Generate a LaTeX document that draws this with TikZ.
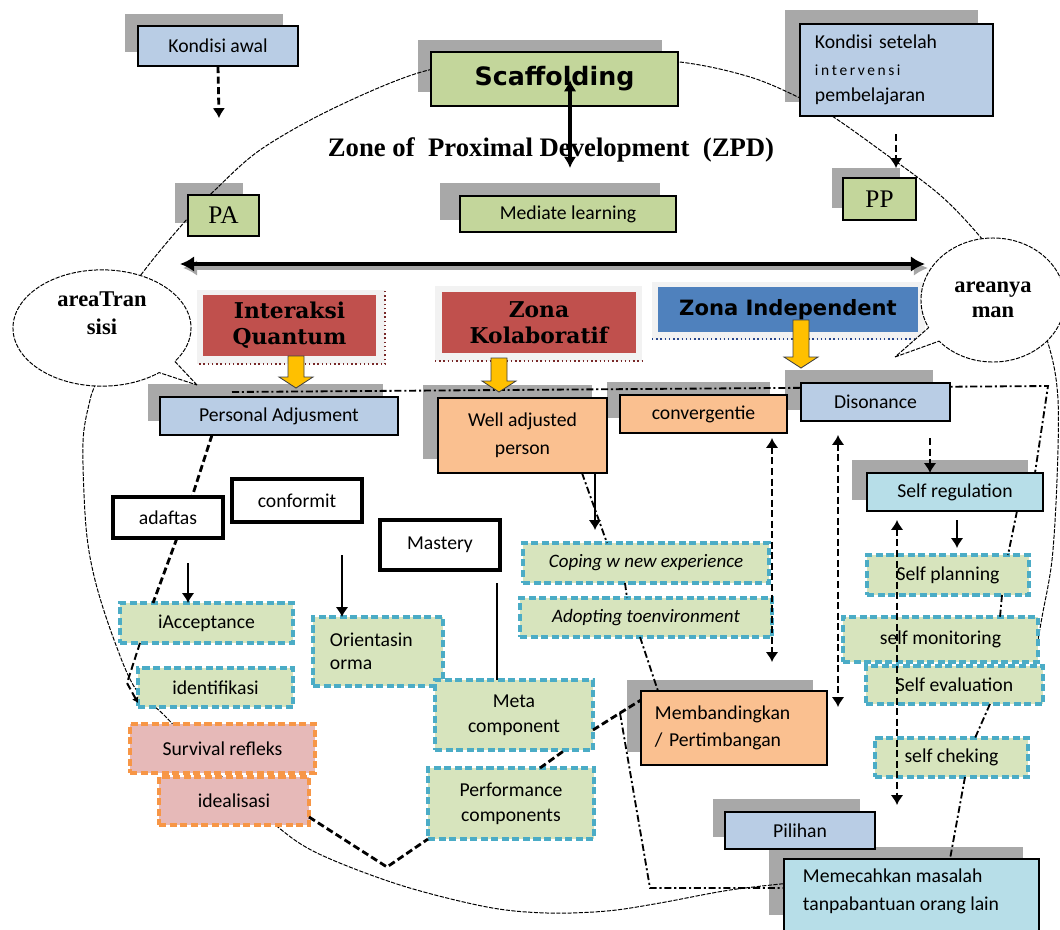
\documentclass[tikz,border=0pt]{standalone}
\usepackage{fontspec}
\setmainfont{Carlito}
\newfontfamily\lserif{Liberation Serif}
\newfontfamily\djserif{DejaVu Serif}
\newfontfamily\djsans{DejaVu Sans}
\usetikzlibrary{arrows.meta,shapes.callouts,shapes.geometric}
\definecolor{boxblue}{RGB}{185,205,229}
\definecolor{boxgreen}{RGB}{195,214,155}
\definecolor{boxlgreen}{RGB}{215,228,189}
\definecolor{boxorange}{RGB}{250,192,144}
\definecolor{boxlblue}{RGB}{183,222,232}
\definecolor{boxpink}{RGB}{230,185,184}
\definecolor{tealc}{RGB}{75,172,198}
\definecolor{orangec}{RGB}{247,150,70}
\definecolor{zred}{RGB}{192,80,77}
\definecolor{zblue}{RGB}{79,129,189}
\definecolor{yel}{RGB}{255,192,0}
\definecolor{shadowgray}{RGB}{168,168,168}
\definecolor{framegray}{RGB}{242,242,242}
\definecolor{dred}{RGB}{120,40,40}
\definecolor{dblue}{RGB}{40,70,140}
\tikzset{
 base/.style={draw=black, line width=1.2pt, inner sep=0pt, outer sep=0pt, font=\fontsize{14}{17}\selectfont},
 bluebox/.style={base, fill=boxblue},
 greenbox/.style={base, fill=boxgreen},
 orangebox/.style={base, fill=boxorange},
 lbluebox/.style={base, fill=boxlblue},
 tealbox/.style={base, draw=tealc, fill=boxlgreen, line width=2.2pt, dash pattern=on 5pt off 2.5pt},
 pinkbox/.style={base, draw=orangec, fill=boxpink, line width=2.2pt, dash pattern=on 5pt off 2.5pt},
 thickbox/.style={base, fill=white, line width=3pt},
 zonered/.style={base, draw=none, fill=zred, align=center, font=\djserif\bfseries\fontsize{15.5}{18.5}\selectfont},
 zoneblue/.style={base, draw=none, fill=zblue, font=\djsans\bfseries\fontsize{15}{18}\selectfont},
 scafffont/.style={font=\djsans\bfseries\fontsize{18}{22}\selectfont},
 serifbig/.style={font=\lserif\fontsize{18}{22}\selectfont},
 ital/.style={font=\itshape\fontsize{13.5}{16}\selectfont},
 twol/.style={align=center, font=\fontsize{14}{18}\selectfont},
 shadowc/.style={fill=shadowgray},
 zpdline/.style={line width=0.7pt, dash pattern=on 3pt off 1pt},
 dashdotc/.style={line width=1.3pt, dash pattern=on 5pt off 2pt on 1.5pt off 2pt},
 dashc/.style={line width=2pt, dash pattern=on 5pt off 2.5pt},
 dasharr/.style={dashc, -{Latex[length=7pt,width=9pt]}},
 dasharrb/.style={dashc, {Latex[length=7pt,width=9pt]}-{Latex[length=7pt,width=9pt]}},
 solidarr/.style={line width=2pt, -{Latex[length=7pt,width=9pt]}},
}
\newcommand{\bx}[7]{%
  \pgfmathsetmacro{\bxcx}{(#2+#4)/2}%
  \pgfmathsetmacro{\bxcy}{(#3+#5)/2}%
  \pgfmathsetmacro{\bxw}{(#4-#2)*0.025}%
  \pgfmathsetmacro{\bxh}{(#5-#3)*0.025}%
  \node[#6, minimum width=\bxw cm, minimum height=\bxh cm] (#1) at (\bxcx,\bxcy) {#7};}
\newcommand{\shd}[4]{\fill[shadowc] (#1,#2) rectangle (#3,#4);}
\newcommand{\yarr}[3]{\filldraw[fill=yel, draw=black!75, line width=0.6pt] (#1-8,#2) -- (#1+8,#2) -- (#1+8,#3-11) -- (#1+17,#3-11) -- (#1,#3) -- (#1-17,#3-11) -- (#1-8,#3-11) -- cycle;}
\begin{document}
\begin{tikzpicture}[x=0.025cm,y=-0.025cm]
\clip (0,0) rectangle (1060,929);
\fill[white] (0,0) rectangle (1060,929);
% shadows
\shd{125}{14}{283}{52}
\shd{418}{40}{662}{92}
\shd{785}{10}{978}{102}
\shd{832}{168}{900}{208}
\shd{175}{183}{243}{223}
\shd{440}{183}{660}{220}
\shd{148}{384}{383}{421}
\shd{423}{385}{592}{459}
\shd{607}{382}{770}{418}
\shd{785}{370}{933}{410}
\shd{852}{460}{1028}{500}
\shd{627}{680}{813}{752}
\shd{713}{799}{860}{837}
\shd{769}{847}{1023}{915}
% zone of proximal development outline
\draw[zpdline] plot[smooth, tension=0.55] coordinates {(800,882) (730,890) (660,903) (607,911) (547,913) (487,907) (400,885) (317,853) (273,823) (215,770) (165,716) (135,688) (113,637) (95,580) (86,527) (83,443) (90,400) (97,378) (110,320) (147,267) (188,218) (215,190) (260,150) (330,110) (418,73) (500,58) (570,55) (680,62) (750,77) (800,98) (832,116) (880,150) (940,195) (983,240) (1030,300) (1050,350) (1058,400) (1057,480) (1052,560) (1042,617) (1038,640)};
% zone frames
\fill[framegray] (197,290) rectangle (385,364);
\draw[dred, dotted, line width=1pt] (385,291) -- (385,364) -- (197,364);
\fill[framegray] (435,286) rectangle (642,361);
\draw[dred, dotted, line width=1pt] (435,361) -- (642,361);
\fill[framegray] (652,282) rectangle (925,340);
\draw[dblue, dotted, line width=1pt] (652,339) -- (918,339);
% top dash-dot line
\coordinate (tl1) at (232,392);
\coordinate (tl2) at (1048,386);
% boxes
\bx{kawal}{138}{26}{298}{66}{bluebox}{Kondisi awal}
\bx{scaff}{431}{52}{678}{106}{greenbox, scafffont}{Scaffolding}
\bx{ksetel}{800}{24}{993}{116}{bluebox, align=left, text width=4.075cm, font=\fontsize{14}{19}\selectfont}{Kondisi setelah\\{\fontsize{11}{19}\selectfont i\,n\,t\,e\,r\,v\,e\,n\,s\,i}\\pembelajaran}
\bx{pp}{843}{178}{916}{220}{greenbox, serifbig}{PP}
\bx{pa}{188}{195}{259}{236}{greenbox, serifbig}{PA}
\bx{mediate}{460}{196}{676}{232}{greenbox}{Mediate learning}
\node[font=\lserif\bfseries\fontsize{19}{22}\selectfont] (zpd) at (551,150) {Zone of \ Proximal Development \ (ZPD)};
\bx{iq}{203}{295}{376}{356}{zonered}{Interaksi\\Quantum}
\bx{zk}{442}{292}{636}{353}{zonered}{Zona\\Kolaboratif}
\bx{zi}{658}{287}{918}{332}{zoneblue}{Zona Independent}
\draw[dashdotc] (tl1) -- (tl2) -- (1035,473);
\bx{padj}{160}{397}{398}{435}{bluebox}{Personal Adjusment}
\bx{well}{438}{398}{607}{473}{orangebox, twol, font=\fontsize{14}{20}\selectfont}{Well adjusted\\person}
\bx{conv}{620}{395}{787}{433}{orangebox}{convergentie}
\bx{diso}{801}{383}{950}{421}{bluebox}{Disonance}
\bx{sreg}{867}{473}{1043}{511}{lbluebox}{Self regulation}
\bx{adaftas}{113}{497}{223}{538}{thickbox}{adaftas}
\bx{conform}{232}{479}{362}{522}{thickbox}{conformit}
\bx{mastery}{380}{520}{500}{570}{thickbox}{Mastery}
\bx{coping}{523}{543}{769}{583}{tealbox, ital}{Coping w new experience}
\bx{adopt}{520}{598}{772}{637}{tealbox, ital}{Adopting toenvironment}
\bx{splan}{867}{555}{1029}{595}{tealbox}{Self planning}
\bx{smon}{843}{617}{1038}{662}{tealbox}{self monitoring}
\bx{sevel}{866}{666}{1043}{704}{tealbox}{Self evaluation}
\bx{scheck}{875}{738}{1028}{777}{tealbox}{self cheking}
\bx{iacc}{120}{603}{293}{643}{tealbox}{iAcceptance}
\bx{ident}{138}{668}{293}{707}{tealbox}{identifikasi}
\bx{orient}{313}{617}{443}{686}{tealbox, align=left, text width=2.4cm, font=\fontsize{14}{16.5}\selectfont}{Orientasin\\orma}
\bx{meta}{435}{680}{593}{750}{tealbox, twol}{Meta\\component}
\bx{perf}{428}{768}{594}{839}{tealbox, twol}{Performance\\components}
\bx{surv}{130}{724}{315}{773}{pinkbox}{Survival refleks}
\bx{ideal}{159}{777}{309}{825}{pinkbox}{idealisasi}
\bx{memb}{641}{691}{827}{765}{orangebox, align=left, text width=3.95cm, font=\fontsize{14}{19}\selectfont}{Membandingkan\\/ Pertimbangan}
\bx{pil}{725}{812}{875}{849}{bluebox}{Pilihan}
\bx{memec}{784}{859}{1039}{950}{lbluebox}{}
\node[anchor=west, align=left, font=\fontsize{14}{20}\selectfont] (memectext) at (798,891) {Memecahkan masalah\\tanpabantuan orang lain};
% yellow arrows
\yarr{296}{356}{388}
\yarr{499}{358}{392}
\yarr{801}{320}{368}
% connectors
\coordinate (kaE) at (219,118);
\draw[dasharr] (kawal.south) -- (kaE);
\coordinate (ksA) at (896,134);
\coordinate (ksB) at (896,168);
\draw[dasharr] (ksA) -- (ksB);
\coordinate (hA) at (180,264);
\coordinate (hB) at (925,264);
\coordinate (hAs) at (183,268);
\coordinate (hBs) at (928,268);
\draw[line width=3.5pt, gray!70, {Latex[length=10pt,width=11pt]}-{Latex[length=10pt,width=11pt]}] (hAs) -- (hBs);
\draw[line width=3.5pt, {Latex[length=10pt,width=11pt]}-{Latex[length=10pt,width=11pt]}] (hA) -- (hB);
\draw[dashc] (padj.south -| 212,0) -- (adaftas.north -| 192,0);
\draw[dashc] (adaftas.south -| 177,0) -- (iacc.north -| 153,0);
\coordinate (ad1) at (188,563);
\draw[solidarr] (ad1) -- (iacc.north -| 188,0);
\coordinate (cf1) at (342,555);
\draw[solidarr] (cf1) -- (orient.north -| 342,0);
\coordinate (ms1) at (497,583);
\draw[line width=1.8pt] (ms1) -- (meta.north -| 497,0);
\coordinate (ib) at (127,683);
\draw[dashc, line width=1.4pt, -{Latex[length=4pt,width=5pt]}] (iacc.south -| 140,0) -- (ib) -- (ident.west |- 0,703);
\coordinate (wc2) at (595,530);
\draw[solidarr] (well.south -| 595,0) -- (wc2);
\draw[dashdotc] (well.south -| 582,0) -- (coping.north -| 607,0);
\draw[dashdotc] (coping.south -| 625,0) -- (adopt.north -| 627,0);
\draw[dashdotc] (adopt.south -| 640,0) -- (memb.north -| 658,0);
\coordinate (mm) at (620,713);
\coordinate (mm2) at (650,888);
\draw[dashc] (meta.east |- 0,730) -- (mm) -- (memb.west |- 0,700);
\draw[dashdotc] (mm) -- (mm2) -- (memec.west |- 0,888);
\draw[dashc] (perf.north -| 540,0) -- (meta.south -| 565,0);
\coordinate (ip) at (387,867);
\draw[dashc] (ideal.east |- 0,817) -- (ip) -- (perf.south west);
\coordinate (cv1) at (772,438);
\coordinate (cv2) at (772,662);
\draw[dasharrb] (cv1) -- (cv2);
\coordinate (dv1) at (838,435);
\coordinate (dv2) at (838,707);
\draw[dasharrb] (dv1) -- (dv2);
\coordinate (ds1) at (930,438);
\draw[dasharr] (ds1) -- (sreg.north -| 930,0);
\coordinate (sp1) at (957,520);
\coordinate (sp2) at (957,548);
\draw[solidarr] (sp1) -- (sp2);
\coordinate (rv1) at (897,520);
\coordinate (rv2) at (897,805);
\draw[dasharrb] (rv1) -- (rv2);
\draw[dashdotc] (sreg.south -| 1017,0) -- (splan.north -| 1008,0);
\draw[dashdotc] (splan.south -| 1002,0) -- (smon.north -| 1000,0);
\draw[dashdotc] (sevel.south -| 990,0) -- (scheck.north -| 975,0);
\draw[dashdotc] (scheck.south -| 965,0) -- (memec.north -| 950,0);
% scaffolding arrow
\coordinate (sfA) at (570,80);
\coordinate (sfB) at (570,168);
\draw[line width=2.5pt, {Latex[length=8pt,width=9pt]}-{Latex[length=8pt,width=9pt]}] (sfA) -- (sfB);
% bubbles
\node[ellipse callout, draw=black, zpdline, fill=white, minimum width=4.45cm, minimum height=2.5cm, callout absolute pointer={(197,385)}, align=center, text depth=0.75cm, font=\lserif\bfseries\fontsize{16}{20}\selectfont] (atrans) at (102,328) {areaTran\\sisi};
\node[ellipse callout, draw=black, zpdline, fill=white, minimum width=3.6cm, minimum height=3.1cm, callout absolute pointer={(895,357)}, align=center, font=\lserif\bfseries\fontsize{16}{18}\selectfont] (anyaman) at (993,300) {areanya\\man};
\end{tikzpicture}
\end{document}
